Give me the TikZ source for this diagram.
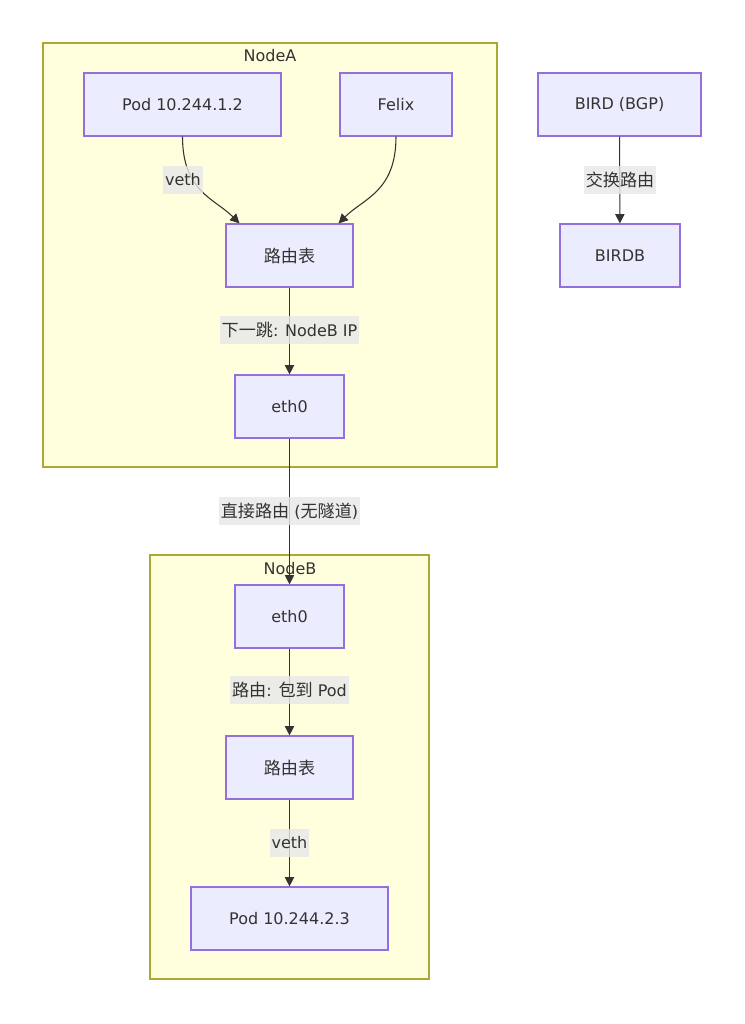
\documentclass[tikz,border=0pt]{standalone}
\usepackage{fontspec}
\setmainfont{DejaVu Sans}
\newfontfamily\cjk[Scale=1.07]{Noto Sans CJK SC}
\usetikzlibrary{arrows.meta,calc}
\definecolor{boxfill}{HTML}{ECECFF}
\definecolor{boxline}{HTML}{9370DB}
\definecolor{grpfill}{HTML}{FFFFDE}
\definecolor{grpline}{HTML}{AAAA33}
\definecolor{ink}{HTML}{333333}
\definecolor{labelbg}{HTML}{E8E8E8}

\begin{document}
\begin{tikzpicture}[x=0.75pt,y=-0.75pt,
    font=\fontsize{12}{14}\selectfont,
    box/.style={draw=boxline, fill=boxfill, line width=0.9pt, text=ink,
      inner sep=0pt, minimum height=47.25pt},
    grp/.style={draw=grpline, fill=grpfill, line width=0.9pt},
    grplabel/.style={text=ink, inner sep=0pt},
    elabel/.style={fill=labelbg, fill opacity=0.8, text opacity=1, text=ink,
      inner xsep=1.5pt, inner ysep=0pt, minimum height=21pt},
    flow/.style={draw=ink, line width=0.8pt, -{Triangle[length=7pt,width=7pt]}}]
			%%%%% START %%%%%
			
			\useasboundingbox[fill=white] (0, 0) rectangle (745, 1024);
			
			% the two hosts
			\draw[grp] (43, 43) rectangle (497, 467);
			\node[grplabel] (nodeA) at (270, 56) {NodeA};
			\draw[grp] (150, 555) rectangle (429, 979);
			\node[grplabel] (nodeB) at (290, 569) {NodeB};
			
			% NodeA
			\node[box, minimum width=147.75pt] (podA) at (182.5, 104.5) {Pod 10.244.1.2};
			\node[box, minimum width=84pt] (felix) at (396, 104.5) {Felix};
			\node[box, minimum width=95.25pt] (rtA) at (289.5, 255.5) {\cjk 路由表};
			\node[box, minimum width=81.75pt] (ethA) at (289.5, 406.5) {eth0};
			
			% BGP daemon
			\node[box, minimum width=122.25pt] (bird) at (619.5, 104.5) {BIRD (BGP)};
			\node[box, minimum width=90pt] (birdb) at (620, 255.5) {BIRDB};
			
			% NodeB
			\node[box, minimum width=81.75pt] (ethB) at (289.5, 616.5) {eth0};
			\node[box, minimum width=95.25pt] (rtB) at (289.5, 767.5) {\cjk 路由表};
			\node[box, minimum width=147.75pt] (podB) at (289.5, 918.5) {Pod 10.244.2.3};
			
			% links
			\draw[flow] (podA.south) .. controls +(0, 55) and +(-25, -25) .. ($(rtA.north)+(-50, 0)$);
			\draw[flow] (felix.south) .. controls +(0, 55) and +(25, -25) .. ($(rtA.north)+(49, 0)$);
			\draw[flow] (rtA) -- (ethA);
			\draw[flow] (ethA) -- (ethB);
			\draw[flow] (ethB) -- (rtB);
			\draw[flow] (rtB) -- (podB);
			\draw[flow] (bird) -- (birdb);
			
			% link labels
			\node[elabel] (vethA) at (183, 180) {veth};
			\node[elabel] (hopA) at (289.5, 330) {{\cjk 下一跳}: NodeB IP};
			\node[elabel] (direct) at (289.5, 511) {{\cjk 直接路由} ({\cjk 无隧道})};
			\node[elabel] (toPod) at (289.5, 690) {{\cjk 路由}: {\cjk 包到} Pod};
			\node[elabel] (vethB) at (289.5, 843) {veth};
			\node[elabel] (swap) at (620, 180) {\cjk 交换路由};
			
			%%%%% END %%%%%
\end{tikzpicture}
\end{document}
